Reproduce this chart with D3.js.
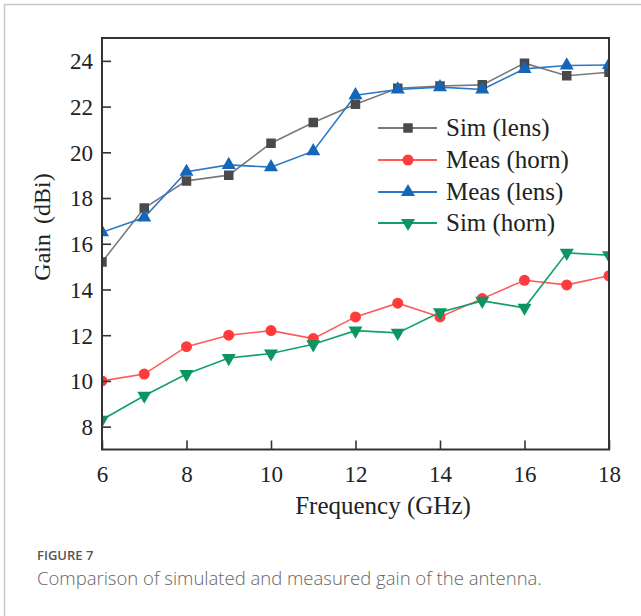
<!DOCTYPE html>
<html>
<head>
<meta charset="utf-8">
<script src="https://cdn.jsdelivr.net/npm/d3@7"></script>
<style>
  html, body { margin: 0; padding: 0; background: #fff; }
  svg { display: block; }
</style>
</head>
<body>
<script>
const freq = [6, 7, 8, 9, 10, 11, 12, 13, 14, 15, 16, 17, 18];
const simLens  = [15.2, 17.56, 18.75, 19.0, 20.4, 21.3, 22.1, 22.8, 22.9, 22.95, 23.9, 23.35, 23.5];
const measHorn = [10.0, 10.3, 11.5, 12.0, 12.2, 11.85, 12.8, 13.4, 12.8, 13.6, 14.4, 14.2, 14.6];
const measLens = [16.5, 17.15, 19.15, 19.45, 19.35, 20.05, 22.5, 22.75, 22.85, 22.75, 23.65, 23.8, 23.82];
const simHorn  = [8.3, 9.35, 10.3, 11.0, 11.2, 11.6, 12.2, 12.1, 13.0, 13.5, 13.2, 15.6, 15.5];
const seriesNames = ["Sim (lens)", "Meas (horn)", "Meas (lens)", "Sim (horn)"];
const xTicks = [6, 8, 10, 12, 14, 16, 18];
const yTicks = [8, 10, 12, 14, 16, 18, 20, 22, 24];
const xLabel = "Frequency (GHz)";
const yLabel = "Gain (dBi)";
const figLabel = "FIGURE 7";
const caption = "Comparison of simulated and measured gain of the antenna.";

const W = 641, H = 616;
const svg = d3.select("body").append("svg").attr("width", W).attr("height", H);

// card border
svg.append("line").attr("x1", 4).attr("x2", W).attr("y1", 4.5).attr("y2", 4.5)
  .attr("stroke", "#c8c8c8").attr("stroke-width", 1.5);
svg.append("line").attr("x1", 4.5).attr("x2", 4.5).attr("y1", 4).attr("y2", H)
  .attr("stroke", "#c8c8c8").attr("stroke-width", 1.5);

const x = d3.scaleLinear().domain([6, 18]).range([102, 609]);
const y = d3.scaleLinear().domain([7, 25]).range([449.5, 38]);

const serif = "'Liberation Serif', 'Times New Roman', serif";

svg.append("clipPath").attr("id", "clip").append("rect")
  .attr("x", x(6)).attr("y", y(25)).attr("width", x(18) - x(6)).attr("height", y(7) - y(25));

const styles = [
  { data: simLens,  line: "#7a7a7a", fill: "#4a4a4a", sym: d3.symbolSquare,   size: 90 },
  { data: measHorn, line: "#ff5a5a", fill: "#ff3b3b", sym: d3.symbolCircle,   size: 95 },
  { data: measLens, line: "#2a78c8", fill: "#1565b8", sym: d3.symbolTriangle, size: 85 },
  { data: simHorn,  line: "#14a06a", fill: "#0b9560", sym: d3.symbolTriangle, size: 85, rot: 180 }
];

const gData = svg.append("g").attr("clip-path", "url(#clip)");
const line = d3.line().x((d, i) => x(freq[i])).y(d => y(d));
styles.forEach(s => {
  gData.append("path").attr("d", line(s.data)).attr("fill", "none")
    .attr("stroke", s.line).attr("stroke-width", 1.6);
});
styles.forEach(s => {
  gData.selectAll(null).data(s.data).enter().append("path")
    .attr("d", d3.symbol().type(s.sym).size(s.size))
    .attr("transform", (d, i) => `translate(${x(freq[i])},${y(d)})` + (s.rot ? ` rotate(${s.rot})` : ""))
    .attr("fill", s.fill);
});

// axes (inward ticks)
const xAxis = d3.axisBottom(x).tickValues(xTicks).tickSizeInner(-9).tickSizeOuter(0).tickPadding(16);
const yAxis = d3.axisLeft(y).tickValues(yTicks).tickSizeInner(-9).tickSizeOuter(0).tickPadding(18);
const gx = svg.append("g").attr("transform", `translate(0,${y(7)})`).call(xAxis);
const gy = svg.append("g").attr("transform", `translate(${x(6)},0)`).call(yAxis);
[gx, gy].forEach(g => {
  g.select(".domain").remove();
  g.selectAll(".tick line").attr("stroke", "#333").attr("stroke-width", 1.6);
  g.selectAll(".tick text").attr("fill", "#222").style("font-family", serif).style("font-size", "23px");
});
gy.selectAll(".tick text").attr("x", -9).attr("dy", "0.34em");
gx.selectAll(".tick text").attr("dy", "0.71em");

// frame
svg.append("rect").attr("x", x(6)).attr("y", y(25)).attr("width", x(18) - x(6)).attr("height", y(7) - y(25))
  .attr("fill", "none").attr("stroke", "#333").attr("stroke-width", 2);

// axis labels
svg.append("text").attr("x", 383).attr("y", 514).attr("text-anchor", "middle")
  .style("font-family", serif).style("font-size", "25px").attr("fill", "#222").text(xLabel);
svg.append("text").attr("transform", "translate(50,227) rotate(-90)").attr("text-anchor", "middle")
  .style("font-family", serif).style("font-size", "24px").attr("fill", "#222")
  .style("word-spacing", "4px").text(yLabel);

// legend
const legY = [128, 160, 192, 223];
const lg = svg.append("g");
styles.forEach((s, i) => {
  const yy = legY[i];
  lg.append("line").attr("x1", 378).attr("x2", 437).attr("y1", yy).attr("y2", yy)
    .attr("stroke", s.line).attr("stroke-width", 1.8);
  lg.append("path").attr("d", d3.symbol().type(s.sym).size(s.size))
    .attr("transform", `translate(408,${yy})` + (s.rot ? ` rotate(${s.rot})` : ""))
    .attr("fill", s.fill);
  lg.append("text").attr("x", 446).attr("y", yy + 8)
    .style("font-family", serif).style("font-size", "25px").attr("fill", "#222")
    .text(seriesNames[i]);
});

// caption
svg.append("text").attr("x", 37).attr("y", 560)
  .style("font-family", "'Open Sans', sans-serif").style("font-size", "13px").style("font-weight", 600)
  .attr("fill", "#555").text(figLabel);
svg.append("text").attr("x", 37).attr("y", 585)
  .style("font-family", "'Open Sans', sans-serif").style("font-size", "18.5px").style("font-weight", 300)
  .attr("fill", "#666").text(caption);
</script>
</body>
</html>
